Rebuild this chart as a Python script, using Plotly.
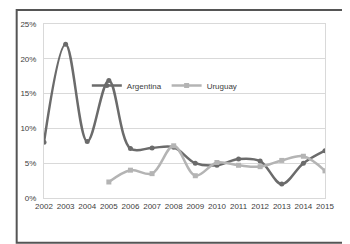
import plotly.graph_objects as go

years = [2002, 2003, 2004, 2005, 2006, 2007, 2008, 2009, 2010, 2011, 2012, 2013, 2014, 2015]
argentina = [8.0, 22.1, 8.1, 16.9, 7.1, 7.2, 7.3, 5.0, 4.7, 5.6, 5.3, 2.0, 5.0, 6.8]
uru_years = [2005, 2006, 2007, 2008, 2009, 2010, 2011, 2012, 2013, 2014, 2015]
uruguay = [2.3, 4.0, 3.5, 7.5, 3.2, 5.1, 4.7, 4.5, 5.4, 6.0, 3.9]
y_ticks = [0, 5, 10, 15, 20, 25]
y_labels = ["0%", "5%", "10%", "15%", "20%", "25%"]

font_family = "Liberation Sans Narrow, Liberation Sans, Arial, sans-serif"

fig = go.Figure()
fig.add_trace(go.Scatter(
    x=years, y=argentina, name="Argentina", mode="lines+markers",
    line=dict(color="#6b6b6b", width=2.5, shape="spline", smoothing=1),
    marker=dict(symbol="circle", size=5, color="#6b6b6b"),
))
fig.add_trace(go.Scatter(
    x=uru_years, y=uruguay, name="Uruguay", mode="lines+markers",
    line=dict(color="#b4b4b4", width=2.5, shape="spline", smoothing=1),
    marker=dict(symbol="square", size=5, color="#b4b4b4"),
))

# figure sits 8px in from the page edge (body margin), so size/margins compensate
fig.update_layout(
    width=342, height=236,
    margin=dict(l=29, r=25, t=15, b=46),
    paper_bgcolor="white", plot_bgcolor="white",
    font=dict(family=font_family, size=8, color="#404040"),
    showlegend=True,
    legend=dict(orientation="h", x=0.43, y=0.646, xanchor="center", yanchor="middle",
                bgcolor="rgba(0,0,0,0)", font=dict(size=8), itemwidth=30,
                tracegroupgap=0),
    xaxis=dict(range=[2002, 2015], tickmode="array", tickvals=years,
               ticktext=[str(y) for y in years], showgrid=False, zeroline=False,
               showline=True, linecolor="#d9d9d9", linewidth=1, mirror=True,
               ticks="", ticklabelstandoff=0),
    yaxis=dict(range=[0, 25], tickmode="array", tickvals=y_ticks, ticktext=y_labels,
               showgrid=True, gridcolor="#d9d9d9", gridwidth=1, zeroline=False,
               showline=True, linecolor="#d9d9d9", linewidth=1, mirror=True,
               ticks="", ticklabelstandoff=5),
    shapes=[dict(type="rect", xref="paper", yref="paper",
                 x0=-28 / 288, x1=1 + 24 / 288, y0=-45 / 175, y1=1 + 14 / 175,
                 line=dict(color="#555555", width=2), fillcolor="rgba(0,0,0,0)",
                 layer="below")],
)

fig.write_html("out.html")
